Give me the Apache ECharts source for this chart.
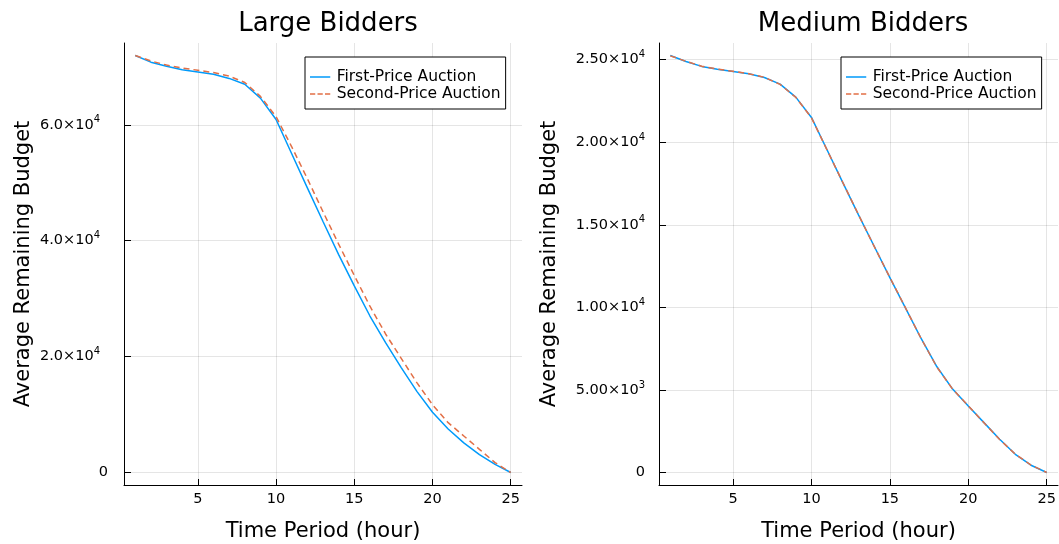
<!DOCTYPE html>
<html>
<head>
<meta charset="utf-8">
<script src="https://cdn.jsdelivr.net/npm/echarts@6/dist/echarts.min.js"></script>
<style>
html,body{margin:0;padding:0;background:#fff;}
#chart{width:1059px;height:544px;}
</style>
</head>
<body>
<div id="chart"></div>
<script>
const hours = [1,2,3,4,5,6,7,8,9,10,11,12,13,14,15,16,17,18,19,20,21,22,23,24,25];
const largeFirst = [71950,70800,70100,69500,69100,68700,68000,67000,64600,60900,55000,49100,43300,37600,32200,27000,22400,18100,14000,10400,7500,5100,3100,1400,0];
const largeSecond = [71950,71000,70300,69800,69400,69000,68400,67300,64900,61400,56200,50700,45000,39400,34000,28700,23900,19700,15500,11700,8600,6300,4000,1700,0];
const mediumFirst = [25250,24890,24590,24420,24280,24140,23920,23520,22730,21500,19530,17550,15600,13700,11800,9950,8100,6400,5050,4030,3020,2010,1100,440,0];
const mediumSecond = [25230,24900,24600,24430,24290,24150,23930,23500,22720,21480,19520,17560,15610,13690,11810,9960,8100,6380,5050,4040,3010,2000,1110,450,0];

const xTicks = [5,10,15,20,25];
const largeYTicks = [0,20000,40000,60000];
const largeYTickLabels = [['0',''],['2.0×10','4'],['4.0×10','4'],['6.0×10','4']];
const mediumYTicks = [0,5000,10000,15000,20000,25000];
const mediumYTickLabels = [['0',''],['5.00×10','3'],['1.00×10','4'],['1.50×10','4'],['2.00×10','4'],['2.50×10','4']];

const titles = ['Large Bidders','Medium Bidders'];
const seriesNames = ['First-Price Auction','Second-Price Auction'];
const xName = 'Time Period (hour)';
const yName = 'Average Remaining Budget';

const FONT = 'DejaVu Sans';
const BLUE = '#009AFA';
const RED = '#E26F46';

function pairs(ys){ return hours.map((h,i)=>[h, ys[i]]); }
function widen(lo, hi){ const d=(hi-lo)*0.03; return [lo-d, hi+d]; }

const xr = widen(hours[0], hours[hours.length-1]);
const lr = widen(0, Math.max(...largeFirst, ...largeSecond));
const mr = widen(0, Math.max(...mediumFirst, ...mediumSecond));

function makeLabelFmt(ticks, labels){
  return function(v){
    const i = ticks.indexOf(v);
    if (i < 0) return '';
    const l = labels[i];
    if (!l[1]) return '{m|' + l[0] + '}';
    return '{m|' + l[0] + '}{s|' + l[1] + '}';
  };
}

function xAxis(idx){
  return {
    type:'value', gridIndex: idx, min: xr[0], max: xr[1],
    name: xName, nameLocation:'middle', nameGap: 36,
    nameTextStyle:{fontFamily:FONT, fontSize:21, color:'#000'},
    axisLine:{show:true, onZero:false, lineStyle:{color:'#000', width:1}},
    axisTick:{show:true, inside:true, length:6, customValues: xTicks, lineStyle:{color:'#000'}},
    axisLabel:{customValues: xTicks, fontFamily:FONT, fontSize:14.5, color:'#000', margin:7,
      formatter: v => String(v)},
    splitLine:{show:true, lineStyle:{color:'rgba(0,0,0,0.1)', width:1}}
  };
}
function yAxis(idx, range, ticks, labels, gap, margin, supPad){
  return {
    type:'value', gridIndex: idx, min: range[0], max: range[1],
    name: yName, nameLocation:'middle', nameGap: gap,
    nameTextStyle:{fontFamily:FONT, fontSize:21, color:'#000'},
    axisLine:{show:true, onZero:false, lineStyle:{color:'#000', width:1}},
    axisTick:{show:true, inside:true, length:7, customValues: ticks, lineStyle:{color:'#000'}},
    axisLabel:{customValues: ticks, margin: margin, color:'#000',
      formatter: makeLabelFmt(ticks, labels),
      rich:{
        m:{fontFamily:FONT, fontSize:14.5, color:'#000'},
        s:{fontFamily:FONT, fontSize:10, color:'#000', padding:[0,supPad,10,0]}
      }},
    splitLine:{show:true, lineStyle:{color:'rgba(0,0,0,0.1)', width:1}}
  };
}
function line(name, data, xi, color, dashed){
  return {
    type:'line', name: name, xAxisIndex: xi, yAxisIndex: xi, data: pairs(data),
    symbol:'none', showSymbol:false, smooth:false,
    lineStyle:{color: color, width: 1.5, type: dashed ? [6,4] : 'solid'},
    itemStyle:{color: color},
    emphasis:{disabled:true}
  };
}
const SOLID_ICON = 'path://M0,0h27v2h-27z';
const DASH_ICON = 'path://M0,0h7v2h-7z M10,0h7v2h-7z M20,0h7v2h-7z';
function legend(left){
  return {
    show:true, orient:'vertical', left: left, top: 57,
    data: [{name: seriesNames[0], icon: SOLID_ICON}, {name: seriesNames[1], icon: DASH_ICON}],
    backgroundColor:'#fff', borderColor:'#000', borderWidth:1,
    padding:[12,5,7,5], itemWidth:27, itemHeight:1.5, itemGap:1,
    textStyle:{fontFamily:FONT, fontSize:15.5, color:'#000', padding:[0,0,0,-2]},
    selectedMode:false
  };
}

const chart = echarts.init(document.getElementById('chart'), null, {renderer:'canvas'});
chart.setOption({
  animation:false,
  backgroundColor:'#fff',
  title:[
    {text: titles[0], left: 323, top: 6, textAlign:'center', textStyle:{fontFamily:FONT, fontSize:26, fontWeight:'normal', color:'#000'}},
    {text: titles[1], left: 858, top: 6, textAlign:'center', textStyle:{fontFamily:FONT, fontSize:26, fontWeight:'normal', color:'#000'}}
  ],
  legend:[legend(305), legend(841)],
  grid:[
    {left:124, top:43, width:398, height:442, containLabel:false, outerBoundsMode:'none'},
    {left:659, top:43, width:399, height:442, containLabel:false, outerBoundsMode:'none'}
  ],
  xAxis:[xAxis(0), xAxis(1)],
  yAxis:[
    yAxis(0, lr, largeYTicks, largeYTickLabels, 90, 16, 8),
    yAxis(1, mr, mediumYTicks, mediumYTickLabels, 99, 14, 0)
  ],
  series:[
    line(seriesNames[0], largeFirst, 0, BLUE, false),
    line(seriesNames[1], largeSecond, 0, RED, true),
    line(seriesNames[0], mediumFirst, 1, BLUE, false),
    line(seriesNames[1], mediumSecond, 1, RED, true)
  ]
});
</script>
</body>
</html>
